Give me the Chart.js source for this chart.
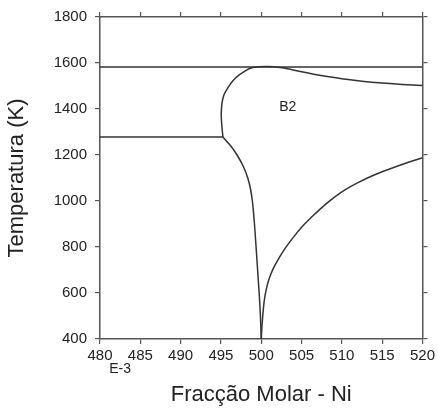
<!DOCTYPE html>
<html>
<head>
<meta charset="utf-8">
<script src="https://cdn.jsdelivr.net/npm/chart.js@4"></script>
<style>
  html, body { margin: 0; padding: 0; background: #fff; }
  #wrap { width: 438px; height: 412px; }
</style>
</head>
<body>
<div id="wrap"><canvas id="myChart" width="438" height="412"></canvas></div>
<script>
// ticks
const xTicks = [480, 485, 490, 495, 500, 505, 510, 515, 520];
const yTicks = [400, 600, 800, 1000, 1200, 1400, 1600, 1800];

// horizontal lines
const topLineX = [480, 520];
const topLineT = [1583, 1583];
const eutLineX = [480, 495.25];
const eutLineT = [1278, 1278];

// B2 upper boundary (dome)
const upperX = [495.25, 495.08, 495.04, 495.14, 495.38, 495.88, 496.49, 497.23, 498.03, 498.83, 499.69, 500.6, 501.6, 502.6, 503.8, 505, 506.5, 508, 510, 512.5, 515, 517.5, 520];
const upperT = [1278, 1341, 1384, 1428, 1462, 1493, 1523, 1547, 1566, 1579, 1583.5, 1585, 1584, 1579.5, 1571, 1562, 1551.5, 1542, 1531.5, 1521, 1513, 1507, 1502];

// B2 lower left boundary
const lowLeftX = [495.25, 495.7, 496.2, 497.0, 497.78, 498.33, 498.68, 498.9, 499.04, 499.16, 499.36, 499.55, 499.74, 499.9, 500];
const lowLeftT = [1278, 1260, 1240, 1200, 1150, 1100, 1050, 1000, 950, 900, 800, 700, 600, 500, 400];

// B2 lower right boundary
const lowRightX = [500, 500.1, 500.35, 500.7, 501, 501.5, 502, 503, 504, 505.2, 506.7, 508.3, 510, 512, 514, 516, 518, 520];
const lowRightT = [400, 460, 560, 628, 664, 707, 740, 796, 843, 893, 945, 995, 1040, 1080, 1113, 1140, 1165, 1188];

const pts = (xs, ys) => xs.map((x, i) => ({x: x, y: ys[i]}));

const lineStyle = {
  borderColor: '#333',
  borderWidth: 1.5,
  pointRadius: 0,
  fill: false,
  tension: 0.4
};

const ctx = document.getElementById('myChart');
const fontFam = "'Liberation Sans', Arial, sans-serif";

const labelsPlugin = {
  id: 'extraText',
  afterDraw(chart) {
    const c = chart.ctx;
    const xs = chart.scales.x, ys = chart.scales.y;
    c.save();
    c.fillStyle = '#222';
    c.font = "14px " + fontFam;
    c.textAlign = 'center';
    c.textBaseline = 'middle';
    c.fillText('B2', xs.getPixelForValue(503.3), ys.getPixelForValue(1406));
    c.fillText('E-3', xs.getPixelForValue(482.5), 369);
    c.restore();
  }
};

const sizeFit = (w, h) => (scale) => {
  if (w !== null) scale.width = w;
  if (h !== null) scale.height = h;
};

const gridOpts = {
  drawOnChartArea: false,
  drawTicks: true,
  tickLength: 5,
  color: '#555',
  lineWidth: 1.2
};
const borderOpts = { display: true, color: '#555', width: 1.5 };
const plain = (v) => String(v);

new Chart(ctx, {
  type: 'line',
  data: {
    datasets: [
      Object.assign({ data: pts(topLineX, topLineT) }, lineStyle, {tension: 0}),
      Object.assign({ data: pts(eutLineX, eutLineT) }, lineStyle, {tension: 0}),
      Object.assign({ data: pts(upperX, upperT) }, lineStyle),
      Object.assign({ data: pts(lowLeftX, lowLeftT) }, lineStyle, {cubicInterpolationMode: 'monotone'}),
      Object.assign({ data: pts(lowRightX, lowRightT) }, lineStyle, {cubicInterpolationMode: 'monotone'})
    ]
  },
  options: {
    responsive: false,
    animation: false,
    layout: { padding: 0 },
    plugins: { legend: { display: false }, tooltip: { enabled: false } },
    scales: {
      x: {
        type: 'linear', position: 'bottom', min: 480, max: 520,
        afterBuildTicks: (s) => { s.ticks = xTicks.map(v => ({value: v})); },
        afterFit: sizeFit(null, 73),
        grid: gridOpts, border: borderOpts,
        ticks: { color: '#222', font: { size: 15, family: fontFam }, padding: 3, maxRotation: 0, callback: plain },
        title: { display: true, text: 'Fracção Molar - Ni', color: '#222', font: { size: 22, family: fontFam }, padding: { top: 0, bottom: 4 } }
      },
      xTop: {
        type: 'linear', position: 'top', min: 480, max: 520,
        afterBuildTicks: (s) => { s.ticks = xTicks.map(v => ({value: v})); },
        afterFit: sizeFit(null, 16),
        grid: gridOpts, border: borderOpts,
        ticks: { display: false }
      },
      y: {
        type: 'linear', position: 'left', min: 400, max: 1800,
        afterBuildTicks: (s) => { s.ticks = yTicks.map(v => ({value: v})); },
        afterFit: sizeFit(100, null),
        grid: gridOpts, border: borderOpts,
        ticks: { color: '#222', font: { size: 15, family: fontFam }, padding: 8, callback: plain },
        title: { display: true, text: 'Temperatura (K)', color: '#222', font: { size: 22, family: fontFam }, padding: { top: 4, bottom: 0 } }
      },
      yRight: {
        type: 'linear', position: 'right', min: 400, max: 1800,
        afterBuildTicks: (s) => { s.ticks = yTicks.map(v => ({value: v})); },
        afterFit: sizeFit(14, null),
        grid: gridOpts, border: borderOpts,
        ticks: { display: false }
      }
    }
  },
  plugins: [labelsPlugin]
});
</script>
</body>
</html>
